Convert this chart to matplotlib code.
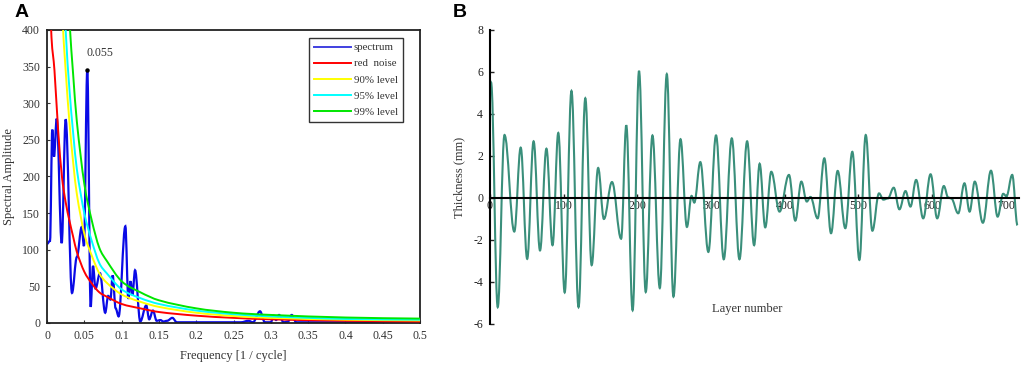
import matplotlib
matplotlib.use("Agg")
import matplotlib.pyplot as plt
from matplotlib.path import Path
from matplotlib.patches import PathPatch
from matplotlib.lines import Line2D

plt.rcParams['font.family'] = ['Liberation Serif', 'DejaVu Serif']
plt.rcParams['axes.unicode_minus'] = False

# ---------------- Panel A data ----------------
SPEC_F = [0.000, 0.004, 0.0071, 0.0094, 0.0130, 0.0197, 0.0250, 0.0335, 0.0400,
          0.0465, 0.0495, 0.0540, 0.0585, 0.0617, 0.0650, 0.0710, 0.0780, 0.0820,
          0.0850, 0.0880, 0.0920, 0.0960, 0.1050, 0.1090, 0.1120, 0.1145, 0.1180,
          0.1250, 0.1330, 0.1370, 0.1420, 0.1470, 0.1520, 0.1560, 0.1610, 0.1680,
          0.1740, 0.2000, 0.2600, 0.2700, 0.2760, 0.2855, 0.2920, 0.3000, 0.3040,
          0.3070, 0.3110, 0.3170, 0.3230, 0.3280, 0.3340, 0.4000, 0.5000]
SPEC_A = [108, 112, 264, 227, 279, 109, 278, 41, 90,
          131, 105, 346, 22, 78, 47, 68, 14, 37,
          32, 65, 20, 9, 132, 33, 57, 38, 72,
          2, 24, 5, 17, 3, 4, 2, 3, 7,
          1, 1, 1, 3, 1, 16, 1, 1, 10,
          4, 11, 1, 2, 11, 1, 1, 1]

LEVEL_F = [0.003, 0.006, 0.01, 0.015, 0.02, 0.025, 0.03, 0.035, 0.04, 0.05, 0.06,
           0.07, 0.08, 0.1, 0.125, 0.15, 0.2, 0.25, 0.3, 0.4, 0.5]
RED_NOISE = [470, 390, 345, 262, 200, 165, 140, 118, 97, 70, 54,
             42, 36, 26, 20, 15, 10, 7, 5, 3, 2]
LEVEL_90 = [1500, 1000, 750, 560, 430, 345, 275, 220, 176, 122, 92,
            68, 55, 39, 29, 22, 14, 9.5, 7, 4.5, 3.5]
LEVEL_95 = [2000, 1300, 950, 700, 520, 400, 320, 260, 210, 150, 112,
            82, 68, 46, 34, 26, 17, 12, 9, 5.5, 4.5]
LEVEL_99 = [2600, 1700, 1200, 880, 660, 520, 415, 340, 275, 190, 140,
            103, 85, 57, 42, 31, 20, 14, 11, 7.5, 6]

PEAK_F, PEAK_A, PEAK_LABEL = 0.054, 346, "0.055"

A_XTICKS = [0, 0.05, 0.1, 0.15, 0.2, 0.25, 0.3, 0.35, 0.4, 0.45, 0.5]
A_XTICKLABELS = ["0", "0.05", "0.1", "0.15", "0.2", "0.25", "0.3", "0.35", "0.4", "0.45", "0.5"]
A_YTICKS = [0, 50, 100, 150, 200, 250, 300, 350, 400]

# ---------------- Panel B data ----------------
B_X = [0, 1.5, 10.5, 19.7, 33, 41.7, 50.5, 59.2, 67.9, 76.6, 84.9, 92.7, 101.4, 110.6,
       120.2, 129.4, 138, 146.8, 154.6, 165.6, 178, 185, 193.6, 202.3, 211.4, 220.5,
       230.5, 240, 249, 258.6, 267.3, 273.6, 277.3, 285.5, 296.4, 306.8, 317.3, 328.2,
       338.6, 349, 358.5, 366, 373.6, 381.8, 393, 405.8, 414.4, 422.6, 430, 435, 444.7,
       453.8, 462.9, 471.9, 482.3, 491.8, 501.4, 510, 519, 528, 534, 540, 548, 555.7,
       564, 570.7, 578.4, 588, 598, 607, 616, 622, 626, 635.5, 644, 651, 658, 669, 680,
       689, 696.6, 701, 708.8, 716]
B_Y = [5.3, 5.5, -5.2, 3.0, -1.6, 2.4, -2.9, 2.7, -2.5, 2.35, -2.25, 3.1, -4.5, 5.1,
       -5.2, 4.75, -3.2, 1.43, -1.0, 0.76, -1.94, 3.46, -5.35, 6.05, -4.48, 2.98,
       -4.29, 5.9, -4.7, 2.8, -1.38, 0.1, -0.22, 1.71, -2.57, 2.98, -2.92, 2.84,
       -2.92, 2.7, -2.25, 1.63, -1.4, 1.25, -0.65, 1.1, -1.08, 0.78, -0.17, 0.05, -0.97,
       1.89, -1.68, 1.29, -1.44, 2.2, -2.95, 3.0, -1.56, 0.22, -0.08, -0.02, 0.49, -0.54,
       0.33, -0.41, 0.86, -0.97, 1.13, -0.97, 0.57, 0.02, -0.02, -0.73, 0.7, -0.65, 0.78, -1.18, 1.3,
       -0.89, 0.2, 0.08, 1.1, -1.3]

B_XTICKS = [0, 100, 200, 300, 400, 500, 600, 700]
B_YTICKS = [-6, -4, -2, 0, 2, 4, 6, 8]


def extrema_path(xs, ys, k=0.36):
    """Smooth path through extrema (horizontal tangents at each given point)."""
    n = min(len(xs), len(ys))
    verts = [(xs[0], ys[0])]
    codes = [Path.MOVETO]
    for i in range(1, n):
        dx = xs[i] - xs[i - 1]
        verts += [(xs[i - 1] + k * dx, ys[i - 1]), (xs[i] - k * dx, ys[i]), (xs[i], ys[i])]
        codes += [Path.CURVE4] * 3
    return Path(verts, codes)


def spline_path(xs, ys):
    """Catmull-Rom style smooth path through given points."""
    n = min(len(xs), len(ys))
    verts = [(xs[0], ys[0])]
    codes = [Path.MOVETO]
    for i in range(n - 1):
        x0, y0 = (xs[i - 1], ys[i - 1]) if i > 0 else (xs[i], ys[i])
        x1, y1 = xs[i], ys[i]
        x2, y2 = xs[i + 1], ys[i + 1]
        x3, y3 = (xs[i + 2], ys[i + 2]) if i + 2 < n else (x2, y2)
        h = x2 - x1
        t1x, t1y = (x2 - x0), (y2 - y0)
        t2x, t2y = (x3 - x1), (y3 - y1)
        s1 = h / t1x if t1x else 0
        s2 = h / t2x if t2x else 0
        c1 = (x1 + t1x * s1 / 3, y1 + t1y * s1 / 3)
        c2 = (x2 - t2x * s2 / 3, y2 - t2y * s2 / 3)
        verts += [c1, c2, (x2, y2)]
        codes += [Path.CURVE4] * 3
    return Path(verts, codes)


fig = plt.figure(figsize=(10.24, 3.67), dpi=100)

# ---------------- Panel A ----------------
axA = fig.add_axes([0.0459, 0.1199, 0.3643, 0.7984])
axA.set_xlim(0, 0.5)
axA.set_ylim(0, 400)

axA.add_patch(PathPatch(extrema_path(SPEC_F, SPEC_A), fill=False, edgecolor='#0a0ae6', lw=1.6, zorder=2))
colors = ['#ff0000', '#ffff00', '#00ffff', '#00e600']
for vals, c in zip([RED_NOISE, LEVEL_90, LEVEL_95, LEVEL_99], colors):
    axA.add_patch(PathPatch(spline_path(LEVEL_F, vals), fill=False, edgecolor=c, lw=1.4, zorder=3))

axA.plot([PEAK_F], [PEAK_A], 'o', color='black', ms=2.2, zorder=5)
axA.text(PEAK_F + 0.017, PEAK_A + 23, PEAK_LABEL, ha='center', va='center', fontsize=8.5, color='#333333')

axA.set_xticks(A_XTICKS)
axA.set_xticklabels(A_XTICKLABELS)
axA.set_yticks(A_YTICKS)
axA.tick_params(direction='in', length=2.5, width=0.8, labelsize=8.5, colors='#333333', pad=5)
for sp in axA.spines.values():
    sp.set_linewidth(1.3)
    sp.set_color('#222222')
axA.set_xlabel('Frequency [1 / cycle]', fontsize=9, color='#333333', labelpad=6)
axA.set_ylabel('Spectral Amplitude', fontsize=9, color='#333333', labelpad=5)

handles = [Line2D([], [], color=c, lw=1.4) for c in ['#4040e0'] + colors]
leg = axA.legend(handles, ['spectrum', 'red  noise', '90% level', '95% level', '99% level'],
                 loc='upper right', bbox_to_anchor=(0.954, 0.973), fontsize=7.8,
                 handlelength=3.4, handletextpad=0.25, borderpad=0.45, labelspacing=0.6,
                 fancybox=False, framealpha=1, edgecolor='#333333', borderaxespad=0)
leg.get_frame().set_linewidth(1.0)
for t in leg.get_texts():
    t.set_color('#333333')

fig.text(0.0137, 0.965, 'A', fontsize=14, fontweight='bold', family='Liberation Sans', va='center', ha='left')

# ---------------- Panel B ----------------
axB = fig.add_axes([0.4785, 0.1172, 0.5166, 0.8011])
axB.set_xlim(0, 718)
axB.set_ylim(-6, 8)
axB.add_patch(PathPatch(extrema_path(B_X, B_Y, k=0.38), fill=False, edgecolor='#3a8f7b', lw=1.5, zorder=2))
axB.spines['top'].set_visible(False)
axB.spines['right'].set_visible(False)
axB.spines['bottom'].set_position(('data', 0))
axB.spines['bottom'].set_linewidth(1.5)
axB.spines['left'].set_linewidth(1.5)
axB.spines['bottom'].set_zorder(3)
axB.set_xticks(B_XTICKS)
axB.set_yticks(B_YTICKS)
axB.tick_params(direction='in', length=3, width=1, labelsize=8.5, colors='#222222')
axB.tick_params(axis='x', pad=1.5)
axB.tick_params(axis='y', pad=5)
axB.set_ylabel('Thickness (mm)', fontsize=9, color='#333333', labelpad=6)
axB.text(349, -5.3, 'Layer number', ha='center', va='center', fontsize=9, color='#333333')

fig.text(0.4425, 0.965, 'B', fontsize=14, fontweight='bold', family='Liberation Sans', va='center', ha='left')

fig.savefig('out.png', dpi=100)
